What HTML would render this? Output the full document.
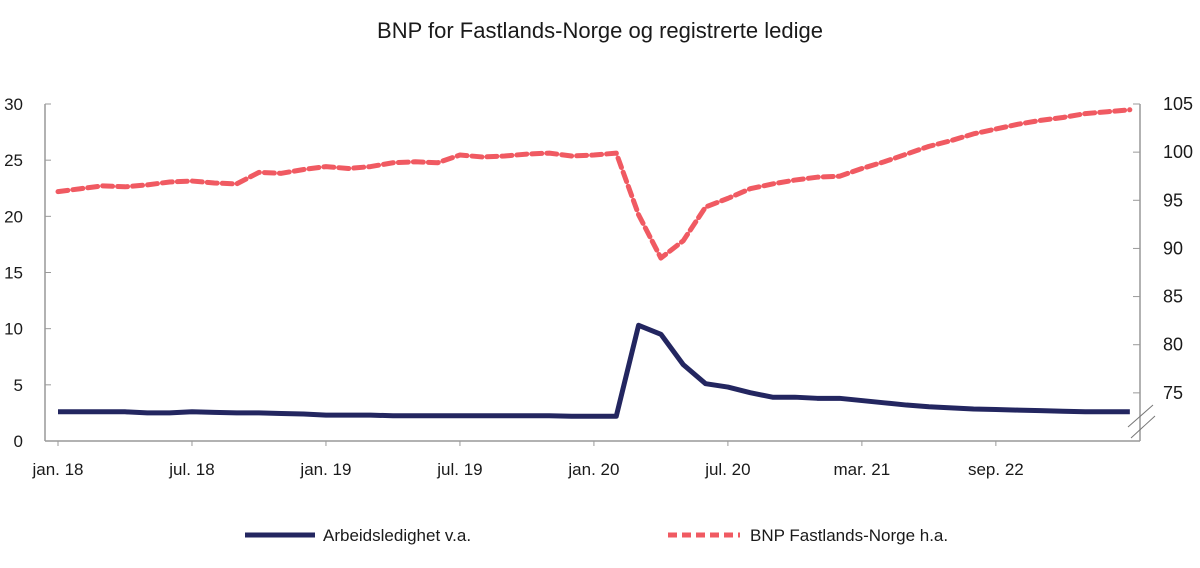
<!DOCTYPE html>
<html><head><meta charset="utf-8"><style>
body{margin:0;background:#fff;font-family:"Liberation Sans",sans-serif}
svg text{font-family:"Liberation Sans",sans-serif;fill:#1a1a1a}
</style></head><body>
<svg id="chart" width="1200" height="563">
<text x="600" y="38" text-anchor="middle" font-size="22">BNP for Fastlands-Norge og registrerte ledige</text>
<g id="axes"></g>
<g id="series"></g>
<g>
<line x1="245" y1="535" x2="315" y2="535" stroke="#232660" stroke-width="5"/>
<text x="323" y="541" font-size="17">Arbeidsledighet v.a.</text>
<line x1="668" y1="535" x2="740" y2="535" stroke="#f05a62" stroke-width="5" stroke-dasharray="9,5"/>
<text x="750" y="541" font-size="17">BNP Fastlands-Norge h.a.</text>
</g>
</svg>
<script>
const xLabels=["jan. 18","jul. 18","jan. 19","jul. 19","jan. 20","jul. 20","mar. 21","sep. 22"];
const leftTicks=[0,5,10,15,20,25,30];
const rightTicks=[75,80,85,90,95,100,105];
const unemployment=[2.6,2.6,2.6,2.6,2.5,2.5,2.6,2.55,2.5,2.5,2.45,2.4,2.3,2.3,2.3,2.25,2.25,2.25,2.25,2.25,2.25,2.25,2.25,2.2,2.2,2.2,10.3,9.5,6.8,5.1,4.8,4.3,3.9,3.9,3.8,3.8,3.6,3.4,3.2,3.05,2.95,2.85,2.8,2.75,2.7,2.65,2.6,2.6,2.6];
const gdp=[95.9,96.2,96.5,96.4,96.6,96.9,97.0,96.8,96.7,97.9,97.8,98.2,98.5,98.3,98.5,98.9,99.0,98.9,99.7,99.5,99.6,99.8,99.9,99.6,99.7,99.9,93.5,89.0,90.8,94.3,95.2,96.2,96.7,97.1,97.4,97.5,98.3,99.0,99.8,100.6,101.2,101.9,102.4,102.9,103.3,103.6,104.0,104.2,104.4];
const X0=58,STEP=22.33,LX=45,RX=1140,TOP=104,BOT=441;
const xs=i=>X0+i*STEP;
const yl=v=>BOT-(v/30)*(BOT-TOP);
const yr=v=>BOT-((v-70)/35)*(BOT-TOP);
const NS="http://www.w3.org/2000/svg";
function mk(tag,attrs,parent){const e=document.createElementNS(NS,tag);for(const k in attrs)e.setAttribute(k,attrs[k]);parent.appendChild(e);return e;}
const ax=document.getElementById('axes'),se=document.getElementById('series');
let e=mk('line',{x1:LX,y1:TOP,x2:LX,y2:BOT,stroke:'#999','stroke-width':1.5},ax);


e=mk('line',{x1:LX,y1:BOT,x2:RX,y2:BOT,stroke:'#999','stroke-width':1.5},ax);


e=mk('line',{x1:RX,y1:TOP,x2:RX,y2:BOT,stroke:'#999','stroke-width':1.5},ax);


e=mk('path',{d:`M1128,427 L1153,405 M1131,438 L1155,416`,stroke:'#777','stroke-width':1,fill:'none'},ax);


leftTicks.forEach(v=>{const y=yl(v);
mk('line',{x1:LX,y1:y,x2:LX+6,y2:y,stroke:'#999'},ax);
const t=mk('text',{x:LX-22,y:y+6,'text-anchor':'end','font-size':17},ax);t.textContent=v;

});
rightTicks.forEach(v=>{const y=yr(v);
mk('line',{x1:RX-7,y1:y,x2:RX,y2:y,stroke:'#999'},ax);
const t=mk('text',{x:RX+23,y:y+6,'font-size':18},ax);t.textContent=v;

});
xLabels.forEach((l,k)=>{const x=xs(k*6);
mk('line',{x1:x,y1:BOT,x2:x,y2:BOT+5,stroke:'#999'},ax);
const t=mk('text',{x:x,y:BOT+34,'text-anchor':'middle','font-size':17},ax);t.textContent=l;

});
let p=mk('polyline',{points:gdp.map((v,i)=>xs(i)+','+yr(v)).join(' '),fill:'none',stroke:'#f05a62','stroke-width':5,'stroke-dasharray':'10,5','stroke-linecap':'round','stroke-linejoin':'round'},se);


p=mk('polyline',{points:unemployment.map((v,i)=>xs(i)+','+yl(v)).join(' '),fill:'none',stroke:'#232660','stroke-width':5,'stroke-linejoin':'round'},se);


</script>
</body></html>
